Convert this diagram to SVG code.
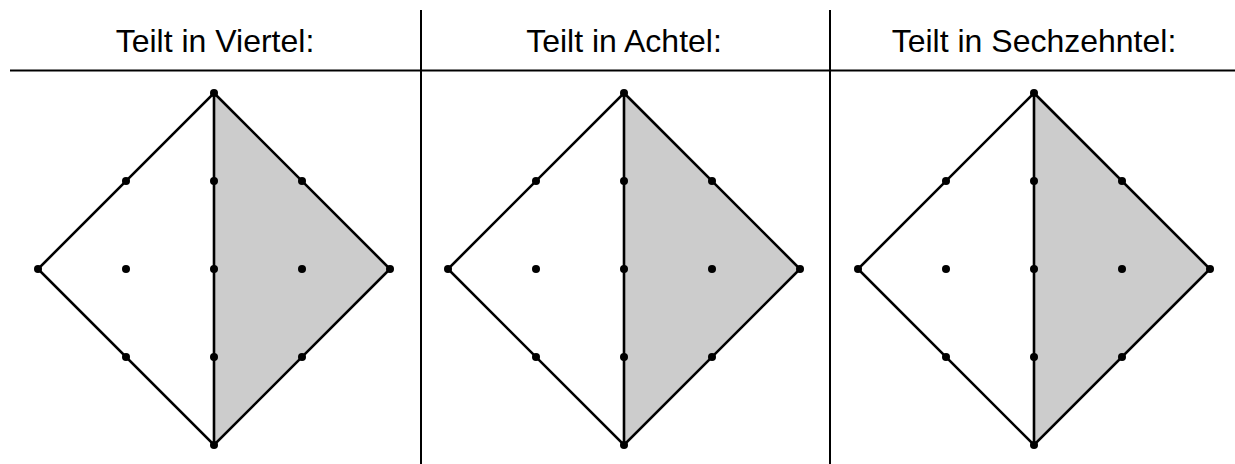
<svg xmlns="http://www.w3.org/2000/svg" width="1235" height="464" viewBox="0 0 1235 464">
<style>
.t{font-family:"Liberation Sans",Arial,sans-serif;font-size:32px;fill:#000;text-anchor:middle}
.ln{stroke:#000;stroke-width:2;fill:none}
.sh{fill:#cccccc;stroke:none}
.ed{stroke:#000;stroke-width:2.6;fill:none;stroke-linejoin:miter}
.d{fill:#000}
</style>
<defs>
<g id="panel">
<polygon class="sh" points="0,-176 176,0 0,176"/>
<polygon class="ed" points="0,-176 176,0 0,176 -176,0"/>
<line class="ed" x1="0" y1="-176" x2="0" y2="176"/>
<circle class="d" cx="0" cy="-176" r="4"/>
<circle class="d" cx="0" cy="176" r="4"/>
<circle class="d" cx="-176" cy="0" r="4"/>
<circle class="d" cx="176" cy="0" r="4"/>
<circle class="d" cx="-88" cy="-88" r="4"/>
<circle class="d" cx="0" cy="-88" r="4"/>
<circle class="d" cx="88" cy="-88" r="4"/>
<circle class="d" cx="-88" cy="0" r="4"/>
<circle class="d" cx="0" cy="0" r="4"/>
<circle class="d" cx="88" cy="0" r="4"/>
<circle class="d" cx="-88" cy="88" r="4"/>
<circle class="d" cx="0" cy="88" r="4"/>
<circle class="d" cx="88" cy="88" r="4"/>
</g>
</defs>
<rect width="1235" height="464" fill="#fff"/>
<g id="grid">
<line class="ln" x1="10" y1="70.5" x2="1235" y2="70.5"/>
<line class="ln" x1="421" y1="10" x2="421" y2="464"/>
<line class="ln" x1="830" y1="10" x2="830" y2="464"/>
</g>
<g id="header">
<text class="t" x="215" y="52">Teilt in Viertel:</text>
<text class="t" x="624" y="52">Teilt in Achtel:</text>
<text class="t" x="1034" y="52">Teilt in Sechzehntel:</text>
</g>
<g id="node-viertel"><use href="#panel" transform="translate(214,269)"/></g>
<g id="node-achtel"><use href="#panel" transform="translate(624,269)"/></g>
<g id="node-sechzehntel"><use href="#panel" transform="translate(1034,269)"/></g>
<g id="connectors"></g>
</svg>
